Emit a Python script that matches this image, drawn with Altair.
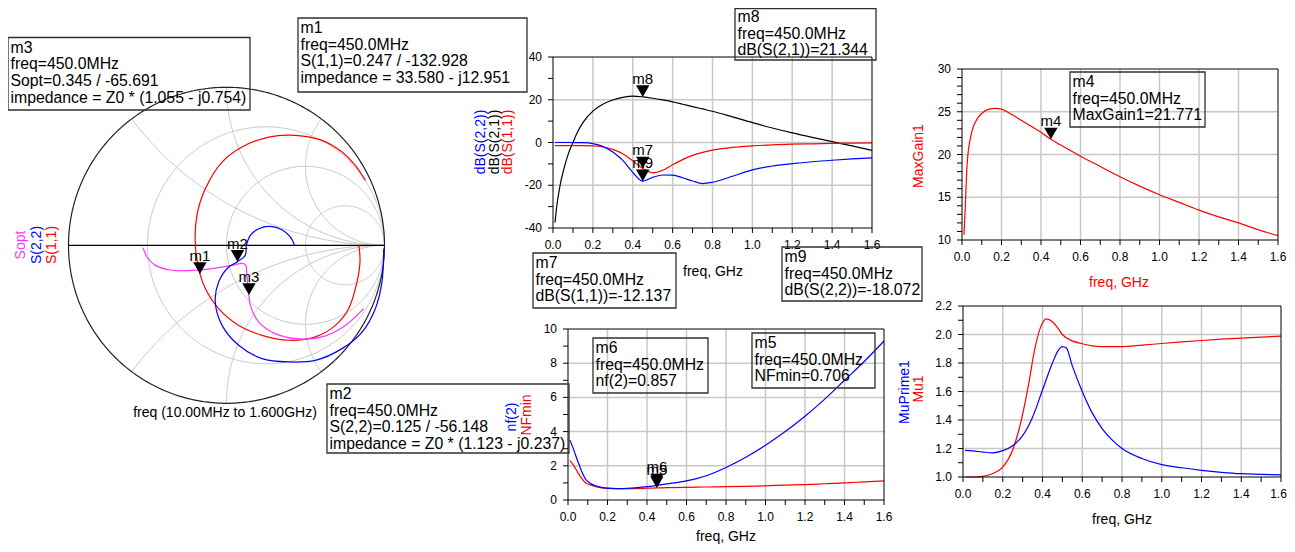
import altair as alt
import numpy as np
import pandas as pd

FONT = "Liberation Sans"
M = 8                 # page margin
W, H = 1279, 536      # drawing area
RED, BLUE, MAG, BLACK = "#ff0000", "#0000ff", "#ff33ff", "#000000"
GRID = "#c8c8c8"

# ------------------------------------------------------------------ data
# dB plot (freq in GHz)
f_db = [0.01, 0.02, 0.03, 0.04, 0.06, 0.08, 0.10, 0.12, 0.15, 0.20, 0.25, 0.30, 0.35, 0.40, 0.45,
        0.50, 0.55, 0.60, 0.65, 0.70, 0.75, 0.80, 0.90, 1.00, 1.10, 1.20, 1.30, 1.40, 1.50, 1.60]
db_s21 = [-37.5, -29.0, -23.0, -18.0, -10.5, -4.5, 0.0, 4.3, 9.3, 14.7, 17.9, 19.9, 21.1, 21.7, 21.344,
          20.7, 19.9, 19.0, 17.9, 16.8, 15.7, 14.6, 12.0, 9.3, 6.8, 4.5, 2.4, 0.4, -1.6, -3.7]
db_s11 = [-1.5, -1.5, -1.5, -1.5, -1.5, -1.5, -1.5, -1.5, -1.5, -1.6, -2.1, -3.2, -5.3, -8.6, -12.137,
          -14.2, -13.0, -10.4, -8.0, -6.0, -4.6, -3.6, -2.3, -1.6, -1.1, -0.8, -0.6, -0.4, -0.3, -0.2]
db_s22 = [0.0, 0.0, 0.0, 0.0, 0.0, 0.0, 0.0, -0.05, -0.1, -0.5, -1.8, -4.4, -8.4, -14.0, -18.072,
          -16.3, -15.2, -15.3, -16.5, -18.0, -19.2, -18.6, -15.8, -12.8, -11.0, -9.9, -9.0, -8.3, -7.7, -7.2]

# MaxGain1
f_mg = [0.01, 0.015, 0.02, 0.025, 0.03, 0.04, 0.05, 0.07, 0.10, 0.13, 0.17, 0.20, 0.25, 0.30, 0.35,
        0.40, 0.45, 0.50, 0.60, 0.70, 0.80, 0.90, 1.00, 1.10, 1.20, 1.30, 1.40, 1.50, 1.60]
maxgain = [10.6, 13.0, 15.8, 18.5, 20.0, 21.6, 22.7, 23.9, 24.8, 25.25, 25.4, 25.3, 24.7, 24.0, 23.3,
           22.6, 21.771, 21.1, 19.8, 18.6, 17.4, 16.3, 15.3, 14.4, 13.5, 12.7, 12.0, 11.2, 10.5]

# Mu1 / MuPrime1
f_mu = [0.01, 0.05, 0.10, 0.15, 0.20, 0.25, 0.30, 0.33, 0.36, 0.39, 0.42, 0.45, 0.48, 0.50,
        0.55, 0.60, 0.65, 0.70, 0.80, 0.90, 1.00, 1.10, 1.20, 1.30, 1.40, 1.50, 1.60]
mu1 = [1.0, 1.0, 1.005, 1.025, 1.07, 1.19, 1.44, 1.65, 1.89, 2.05, 2.11, 2.09, 2.04, 2.0,
       1.955, 1.935, 1.92, 1.915, 1.915, 1.925, 1.937, 1.948, 1.958, 1.967, 1.975, 1.982, 1.988]
f_mup = [0.01, 0.05, 0.10, 0.15, 0.20, 0.25, 0.30, 0.35, 0.40, 0.45, 0.48, 0.50, 0.52, 0.55,
         0.60, 0.65, 0.70, 0.75, 0.80, 0.90, 1.00, 1.10, 1.20, 1.30, 1.40, 1.50, 1.60]
muprime1 = [1.187, 1.183, 1.175, 1.17, 1.185, 1.22, 1.29, 1.42, 1.61, 1.80, 1.89, 1.915, 1.905, 1.78,
            1.60, 1.45, 1.34, 1.26, 1.20, 1.13, 1.087, 1.065, 1.047, 1.033, 1.023, 1.019, 1.015]

# nf(2) / NFmin
f_nf = [0.01, 0.03, 0.05, 0.07, 0.09, 0.11, 0.15, 0.20, 0.25, 0.30, 0.35, 0.40, 0.45,
        0.50, 0.60, 0.70, 0.80, 0.90, 1.00, 1.10, 1.20, 1.30, 1.40, 1.50, 1.60]
nf2 = [3.5, 2.9, 2.25, 1.65, 1.2, 1.0, 0.8, 0.69, 0.67, 0.68, 0.72, 0.78, 0.857,
       0.94, 1.12, 1.42, 1.9, 2.5, 3.2, 4.0, 4.9, 5.9, 7.0, 8.1, 9.3]
nfmin = [2.3, 2.0, 1.6, 1.25, 1.0, 0.9, 0.75, 0.68, 0.66, 0.66, 0.67, 0.69, 0.706,
         0.72, 0.74, 0.76, 0.78, 0.80, 0.83, 0.87, 0.90, 0.95, 1.0, 1.06, 1.12]

# Smith chart traces (reflection coefficient, 10 MHz -> 1.6 GHz)
s11_re = [0.838, 0.845, 0.826, 0.773, 0.689, 0.562, 0.393, 0.225, 0.077, -0.050, -0.134, -0.168,
          -0.197, -0.187, -0.134, -0.028, 0.098, 0.267, 0.436, 0.604, 0.731, 0.815, 0.879]
s11_im = [0.000, -0.100, -0.232, -0.401, -0.507, -0.580, -0.601, -0.570, -0.507, -0.401, -0.274, -0.181,
          0.000, 0.190, 0.358, 0.527, 0.622, 0.685, 0.696, 0.664, 0.590, 0.506, 0.411]
s22_re = [0.995, 0.984, 0.942, 0.858, 0.731, 0.562, 0.393, 0.225, 0.077, -0.028, -0.071, -0.050,
          0.014, 0.0697, 0.119, 0.126, 0.151, 0.204, 0.277, 0.351, 0.404, 0.431]
s22_im = [-0.021, -0.232, -0.401, -0.549, -0.654, -0.728, -0.738, -0.717, -0.633, -0.507, -0.359, -0.232,
          -0.137, -0.1038, -0.063, 0.000, 0.063, 0.105, 0.120, 0.099, 0.053, 0.000]
sopt_re = [-0.528, -0.503, -0.450, -0.345, -0.197, -0.071, 0.035, 0.100, 0.122, 0.128, 0.142, 0.151,
           0.204, 0.309, 0.436, 0.604, 0.752, 0.868]
sopt_im = [-0.015, -0.074, -0.127, -0.158, -0.158, -0.144, -0.127, -0.114, -0.125, -0.180, -0.314, -0.380,
           -0.486, -0.559, -0.591, -0.580, -0.507, -0.401]

# markers (all at 450 MHz)
MARK_F = 0.45
mk_db = [("m8", 21.344), ("m7", -12.137), ("m9", -18.072)]
mk_mg = [("m4", 21.771)]
mk_nf = [("m6", 0.857), ("m5", 0.706)]
mk_smith = [("m1", 0.247, -132.928), ("m2", 0.125, -56.148), ("m3", 0.345, -65.691)]  # mag, angle

# axis ticks
X_TICKS = [round(i * 0.1, 1) for i in range(17)]
X_LABELS = [0.0, 0.2, 0.4, 0.6, 0.8, 1.0, 1.2, 1.4, 1.6]
X_GRID = [0.2, 0.4, 0.6, 0.8, 1.0, 1.2, 1.4]

# smith grid
R_CIRCLES = [1 / 3, 1.0, 3.0]
X_ARCS = [0.5, 1.0, 2.0, -0.5, -1.0, -2.0]

# ------------------------------------------------------------------ layout (page px)
SMITH = dict(cx=226.5, cy=245.3, r=158.0)
PANELS = {
    "db": dict(px=(553, 872), py=(228, 57), xdom=(0, 1.6), ydom=(-40, 40)),
    "nf": dict(px=(568, 884), py=(500, 329), xdom=(0, 1.6), ydom=(0, 10)),
    "mg": dict(px=(962, 1278), py=(240, 69), xdom=(0, 1.6), ydom=(10, 30)),
    "mu": dict(px=(963, 1281), py=(477, 306), xdom=(0, 1.6), ydom=(1.0, 2.2)),
}
BOXES = [  # (left, top, right, bottom, first-baseline offset), lines
    ((8, 37.5, 250, 110, 15), ["m3", "freq=450.0MHz", "Sopt=0.345 / -65.691", "impedance = Z0 * (1.055 - j0.754)"]),
    ((298, 18, 527, 92, 15), ["m1", "freq=450.0MHz", "S(1,1)=0.247 / -132.928", "impedance = 33.580 - j12.951"]),
    ((327, 384, 569, 453, 15), ["m2", "freq=450.0MHz", "S(2,2)=0.125 / -56.148", "impedance = Z0 * (1.123 - j0.237)"]),
    ((735, 8.5, 876, 60, 13.5), ["m8", "freq=450.0MHz", "dB(S(2,1))=21.344"]),
    ((533, 253, 676, 308, 15), ["m7", "freq=450.0MHz", "dB(S(1,1))=-12.137"]),
    ((782, 247, 922, 301, 15), ["m9", "freq=450.0MHz", "dB(S(2,2))=-18.072"]),
    ((1070, 72, 1205, 127, 15), ["m4", "freq=450.0MHz", "MaxGain1=21.771"]),
    ((593, 338, 708, 393, 15), ["m6", "freq=450.0MHz", "nf(2)=0.857"]),
    ((752, 333, 875, 388, 15), ["m5", "freq=450.0MHz", "NFmin=0.706"]),
]
ROT_LABELS = [  # x, y, text, colour (rotated trace names)
    (21, 245, "Sopt", MAG), (37, 245, "S(2,2)", BLUE), (52, 245, "S(1,1)", RED),
    (481, 142, "dB(S(2,2))", BLUE), (495, 142, "dB(S(2,1))", BLACK), (508, 142, "dB(S(1,1))", RED),
    (919, 156, "MaxGain1", RED),
    (905, 392, "MuPrime1", BLUE), (919, 389, "Mu1", RED),
    (512, 417, "nf(2)", BLUE), (527, 415, "NFmin", RED),
]
TITLES = [
    (225, 413, "freq (10.00MHz to 1.600GHz)", BLACK),
    (713, 272, "freq, GHz", BLACK), (726, 537, "freq, GHz", BLACK),
    (1119, 283, "freq, GHz", RED), (1122, 520, "freq, GHz", BLACK),
]


def lin(domain, rng):
    return alt.Scale(domain=list(domain), range=list(rng), nice=False, zero=False)


def rect_panel(key, traces, yticks, ylabels, yfmt, ygrid, markers, last_dx=0):
    p = PANELS[key]
    xs = lin(p["xdom"], [p["px"][0] - M, p["px"][1] - M])
    ys = lin(p["ydom"], [p["py"][0] - M, p["py"][1] - M])

    def X(f):
        return alt.X(f, type="quantitative", scale=xs, axis=None)

    def Y(f):
        return alt.Y(f, type="quantitative", scale=ys, axis=None)

    x0, x1 = p["xdom"]
    y0, y1 = p["ydom"]
    layers = [
        alt.Chart(pd.DataFrame({"v": X_GRID, "a": y0, "b": y1})).mark_rule(color=GRID, strokeWidth=1.5)
        .encode(x=X("v"), y=Y("a"), y2="b"),
        alt.Chart(pd.DataFrame({"v": ygrid, "a": x0, "b": x1})).mark_rule(color=GRID, strokeWidth=1.5)
        .encode(y=Y("v"), x=X("a"), x2="b"),
    ]
    for f, vals, col in traces:
        layers.append(
            alt.Chart(pd.DataFrame({"f": f, "v": vals}))
            .mark_line(color=col, strokeWidth=1.2, interpolate="monotone")
            .encode(x=X("f"), y=Y("v"))
        )
    # frame
    frame = pd.DataFrame({"x0": [x0], "x1": [x1], "y0": [y0], "y1": [y1]})
    layers.append(
        alt.Chart(frame).mark_rect(fill="transparent", stroke="black", strokeWidth=1)
        .encode(x=X("x0"), x2="x1", y=Y("y0"), y2="y1")
    )
    # x ticks and labels
    layers.append(
        alt.Chart(pd.DataFrame({"v": X_TICKS, "a": y0})).mark_rule(color="black", strokeWidth=1, y2Offset=5)
        .encode(x=X("v"), y=Y("a"), y2="a")
    )
    inner = X_LABELS[:-1]
    layers.append(
        alt.Chart(pd.DataFrame({"v": inner, "a": y0, "t": ["%.1f" % v for v in inner]}))
        .mark_text(font=FONT, fontSize=12, color="black", baseline="middle", align="center", dy=17)
        .encode(x=X("v"), y=Y("a"), text="t:N")
    )
    layers.append(
        alt.Chart(pd.DataFrame({"v": X_LABELS[-1:], "a": y0, "t": ["%.1f" % X_LABELS[-1]]}))
        .mark_text(font=FONT, fontSize=12, color="black", baseline="middle", align="center", dy=17, dx=last_dx)
        .encode(x=X("v"), y=Y("a"), text="t:N")
    )
    # y ticks and labels
    layers.append(
        alt.Chart(pd.DataFrame({"v": yticks, "a": x0})).mark_rule(color="black", strokeWidth=1, x2Offset=-5)
        .encode(y=Y("v"), x=X("a"), x2="a")
    )
    layers.append(
        alt.Chart(pd.DataFrame({"v": ylabels, "a": x0, "t": [yfmt % v for v in ylabels]}))
        .mark_text(font=FONT, fontSize=12, color="black", baseline="middle", align="right", dx=-11)
        .encode(y=Y("v"), x=X("a"), text="t:N")
    )
    if markers:
        mk = pd.DataFrame({"f": [MARK_F] * len(markers), "v": [m[1] for m in markers],
                           "name": [m[0] for m in markers]})
        layers.append(
            alt.Chart(mk).mark_text(font=FONT, fontSize=15, dy=-13, baseline="alphabetic", align="center",
                                    color="black").encode(x=X("f"), y=Y("v"), text="name:N")
        )
        layers.append(
            alt.Chart(mk).mark_point(shape="triangle-down", filled=True, size=180, color="black", opacity=1,
                                     yOffset=-5.8).encode(x=X("f"), y=Y("v"))
        )
    return alt.layer(*layers)


def smith_panel():
    cx, cy, r = SMITH["cx"] - M, SMITH["cy"] - M, SMITH["r"]
    sx = lin((-1, 1), [cx - r, cx + r])
    sy = lin((-1, 1), [cy + r, cy - r])

    def X(f):
        return alt.X(f, type="quantitative", scale=sx, axis=None)

    def Y(f):
        return alt.Y(f, type="quantitative", scale=sy, axis=None)

    rows = []
    th = np.linspace(0, 2 * np.pi, 361)
    for k, rr in enumerate(R_CIRCLES):
        c, rad = rr / (1 + rr), 1 / (1 + rr)
        for i, t in enumerate(th):
            rows.append(("r%d" % k, i, c + rad * np.cos(t), rad * np.sin(t)))
    rvals = np.concatenate([np.linspace(0, 1, 80), np.geomspace(1.05, 5000, 160)])
    for k, xx in enumerate(X_ARCS):
        g = (rvals + 1j * xx - 1) / (rvals + 1j * xx + 1)
        for i, z in enumerate(g):
            rows.append(("x%d" % k, i, z.real, z.imag))
    grid = pd.DataFrame(rows, columns=["g", "i", "u", "v"])
    outer = pd.DataFrame({"i": np.arange(361), "u": np.cos(th), "v": np.sin(th)})

    layers = [
        alt.Chart(grid).mark_line(color=GRID, strokeWidth=1)
        .encode(x=X("u"), y=Y("v"), detail="g:N", order="i:Q"),
        alt.Chart(outer).mark_line(color="#222222", strokeWidth=1.2)
        .encode(x=X("u"), y=Y("v"), order="i:Q"),
        alt.Chart(pd.DataFrame({"a": [-1.0], "b": [1.0], "y": [0.0]})).mark_rule(color="black", strokeWidth=1.2)
        .encode(x=X("a"), x2="b", y=Y("y")),
    ]
    for re_, im_, col in [(s11_re, s11_im, RED), (sopt_re, sopt_im, MAG), (s22_re, s22_im, BLUE)]:
        df = pd.DataFrame({"i": range(len(re_)), "u": re_, "v": im_})
        layers.append(
            alt.Chart(df).mark_line(color=col, strokeWidth=1.2, interpolate="catmull-rom")
            .encode(x=X("u"), y=Y("v"), order="i:Q")
        )
    mk = pd.DataFrame({
        "name": [m[0] for m in mk_smith],
        "u": [m[1] * np.cos(np.radians(m[2])) for m in mk_smith],
        "v": [m[1] * np.sin(np.radians(m[2])) for m in mk_smith],
    })
    layers.append(
        alt.Chart(mk).mark_text(font=FONT, fontSize=15, dy=-13, baseline="alphabetic", align="center",
                                color="black").encode(x=X("u"), y=Y("v"), text="name:N")
    )
    layers.append(
        alt.Chart(mk).mark_point(shape="triangle-down", filled=True, size=180, color="black", opacity=1,
                                 yOffset=-5.8).encode(x=X("u"), y=Y("v"))
    )
    return alt.layer(*layers)


def annotations():
    rects, lines = [], []
    for (l, t, r, b, fb), txt in BOXES:
        rects.append((l - M, r - M, t - M, b - M))
        for i, s in enumerate(txt):
            lines.append((l + 2.5 - M, t + fb - M + i * 16.7, s))
    rdf = pd.DataFrame(rects, columns=["x0", "x1", "y0", "y1"])
    ldf = pd.DataFrame(lines, columns=["x", "y", "t"])
    rot = pd.DataFrame([(x - M, y - M, s, c) for x, y, s, c in ROT_LABELS], columns=["x", "y", "t", "c"])
    tit = pd.DataFrame([(x - M, y - M, s, c) for x, y, s, c in TITLES], columns=["x", "y", "t", "c"])

    def PX(f):
        return alt.X(f, type="quantitative", scale=None, axis=None)

    def PY(f):
        return alt.Y(f, type="quantitative", scale=None, axis=None)

    return [
        alt.Chart(rdf).mark_rect(fill="transparent", stroke="#303030", strokeWidth=1.3)
        .encode(x=PX("x0"), x2="x1", y=PY("y0"), y2="y1"),
        alt.Chart(ldf).mark_text(font=FONT, fontSize=15.8, align="left", baseline="alphabetic", color="black")
        .encode(x=PX("x"), y=PY("y"), text="t:N"),
        alt.Chart(rot).mark_text(font=FONT, fontSize=14, angle=270, align="center", baseline="middle")
        .encode(x=PX("x"), y=PY("y"), text="t:N", color=alt.Color("c:N", scale=None)),
        alt.Chart(tit).mark_text(font=FONT, fontSize=14, align="center", baseline="middle")
        .encode(x=PX("x"), y=PY("y"), text="t:N", color=alt.Color("c:N", scale=None)),
    ]


db = rect_panel("db", [(f_db, db_s21, BLACK), (f_db, db_s11, RED), (f_db, db_s22, BLUE)],
                list(range(-40, 41, 10)), [-40, -20, 0, 20, 40], "%d", [-20, 0, 20], mk_db)
mg = rect_panel("mg", [(f_mg, maxgain, RED)],
                list(range(10, 31)), [10, 15, 20, 25, 30], "%d", [15, 20, 25], mk_mg)
mu = rect_panel("mu", [(f_mu, mu1, RED), (f_mup, muprime1, BLUE)],
                [round(1.0 + i * 0.1, 1) for i in range(13)], [1.0, 1.2, 1.4, 1.6, 1.8, 2.0, 2.2], "%.1f",
                [1.2, 1.4, 1.6, 1.8, 2.0], [], last_dx=-2.5)
nf = rect_panel("nf", [(f_nf, nfmin, RED), (f_nf, nf2, BLUE)],
                list(range(0, 11)), [0, 2, 4, 6, 8, 10], "%d", [2, 4, 6, 8], mk_nf)

chart = (
    alt.layer(smith_panel(), db, mg, mu, nf, *annotations())
    .resolve_scale(x="independent", y="independent")
    .properties(width=W, height=H, autosize=alt.AutoSizeParams(type="none"), padding=0)
    .configure_view(stroke=None)
)

chart.save("out.html", embed_options={"renderer": "svg", "actions": False})
